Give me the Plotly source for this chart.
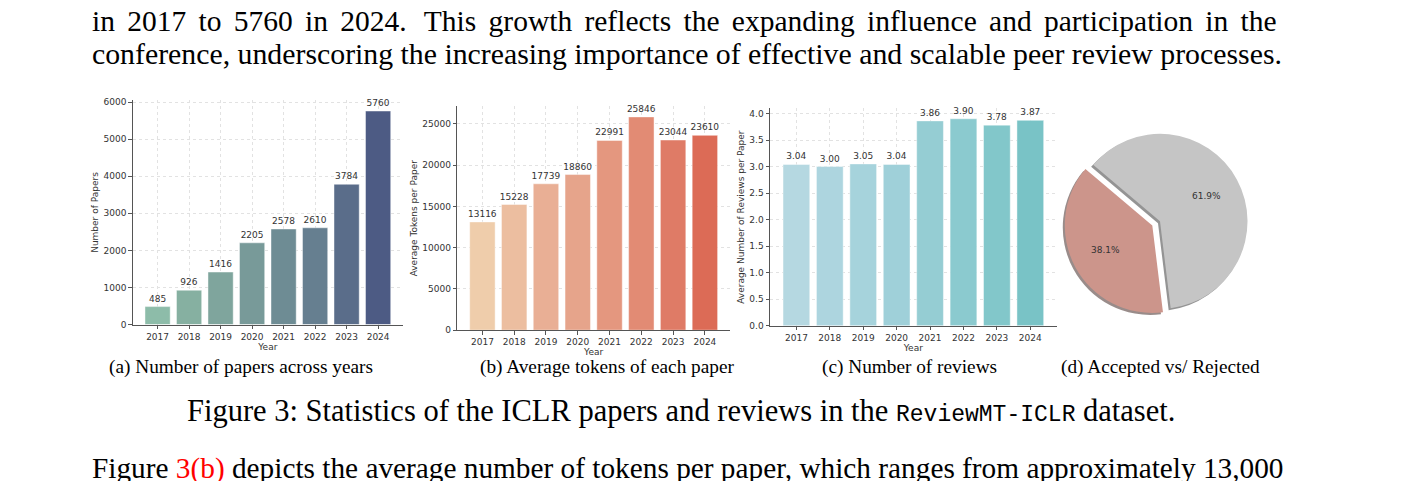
import math
import plotly.graph_objects as go

W, H = 1417, 481

years = ["2017", "2018", "2019", "2020", "2021", "2022", "2023", "2024"]
papers = [485, 926, 1416, 2205, 2578, 2610, 3784, 5760]
tokens = [13116, 15228, 17739, 18860, 22991, 25846, 23044, 23610]
reviews = [3.04, 3.00, 3.05, 3.04, 3.86, 3.90, 3.78, 3.87]
pie_labels = ["Accepted", "Rejected"]
pie_values = [38.1, 61.9]

papers_colors = ["#8dbca9", "#86b0a1", "#7fa59d", "#789a99", "#6e8c94", "#667f90", "#5a6d8a", "#4d5b84"]
tokens_colors = ["#efcdab", "#ecbea0", "#e9af95", "#e6a48b", "#e4977f", "#e28b74", "#df7b66", "#dc6b56"]
reviews_colors = ["#b5d8e1", "#add5df", "#a6d3dc", "#9fd0d9", "#95cdd3", "#8bcacf", "#82c7ca", "#79c3c6"]
pie_colors = ["#cc958b", "#c5c5c5"]
shadow_colors = ["rgba(70,45,42,0.55)", "rgba(60,60,60,0.55)"]

CHART_FONT = "DejaVu Sans"
SERIF = "Liberation Serif"


def px_x(x):
    return x / W


def px_y(y):
    return 1 - y / H


fig = go.Figure()

panels = [
    ("x", "y", papers, papers_colors, "%{y:d}"),
    ("x2", "y2", tokens, tokens_colors, "%{y:d}"),
    ("x3", "y3", reviews, reviews_colors, "%{y:.2f}"),
]
for xa, ya, vals, cols, tmpl in panels:
    fig.add_trace(go.Bar(
        x=years, y=vals, xaxis=xa, yaxis=ya, width=0.8,
        marker=dict(color=cols, line=dict(color="rgba(255,255,255,0.55)", width=0.8)),
        texttemplate=tmpl, textposition="outside", cliponaxis=False,
        constraintext="none",
        textfont=dict(family=CHART_FONT, size=9, color="#333333"),
        showlegend=False, hoverinfo="skip",
    ))

# pie geometry (pixels)
pie_cx, pie_cy, pie_r, pull = 1160, 222, 89, 0.1
box = 2 * pie_r * (1 + pull)
dom_x = [px_x(pie_cx - box / 2), px_x(pie_cx + box / 2)]
dom_y = [px_y(pie_cy + box / 2), px_y(pie_cy - box / 2)]
rot = 173
sh = 2.0
fig.add_trace(go.Pie(
    labels=pie_labels, values=pie_values, sort=False, direction="clockwise",
    rotation=rot, pull=[pull, 0], textinfo="none", hoverinfo="skip",
    marker=dict(colors=shadow_colors, line=dict(width=0)),
    domain=dict(x=[dom_x[0] - sh / W, dom_x[1] - sh / W], y=[dom_y[0] - sh / H, dom_y[1] - sh / H]),
    showlegend=False,
))
fig.add_trace(go.Pie(
    labels=pie_labels, values=pie_values, sort=False, direction="clockwise",
    rotation=rot, pull=[pull, 0], textinfo="none", hoverinfo="skip",
    marker=dict(colors=pie_colors, line=dict(width=0)),
    domain=dict(x=dom_x, y=dom_y), showlegend=False,
))

annotations = []
# pie percentage labels computed from values
total = sum(pie_values)
start = rot
for i, v in enumerate(pie_values):
    span = 360 * v / total
    mid = start + span / 2
    start += span
    theta = math.radians(90 - mid)
    d = 0.6 * pie_r + (pull * pie_r if i == 0 else 0)
    lx = pie_cx + d * math.cos(theta)
    ly = pie_cy - d * math.sin(theta)
    annotations.append(dict(
        x=px_x(lx), y=px_y(ly), xref="paper", yref="paper", showarrow=False,
        text=f"{v:.1f}%", font=dict(family=CHART_FONT, size=9, color="#333333"),
        xanchor="center", yanchor="middle"))

axis_common = dict(
    showline=True, linecolor="#555555", linewidth=1, ticks="outside", ticklen=3.5,
    tickcolor="#555555", tickwidth=1, tickfont=dict(family=CHART_FONT, size=9, color="#333333"),
    showgrid=True, gridcolor="#e2e2e2", griddash="dot", gridwidth=0.8, zeroline=False,
)
xrange = [-0.79, 7.79]
title_font = dict(family=CHART_FONT, size=9, color="#333333")

layout = dict(
    width=W, height=H, margin=dict(l=0, r=0, t=0, b=0),
    paper_bgcolor="white", plot_bgcolor="white",
    xaxis=dict(domain=[px_x(132.7), px_x(403)], anchor="y", range=xrange,
               title=dict(text="Year", font=title_font, standoff=2), **axis_common),
    yaxis=dict(domain=[px_y(327), px_y(99)], anchor="x", range=[0, 6048],
               tickvals=[0, 1000, 2000, 3000, 4000, 5000, 6000], tickformat="d",
               title=dict(text="Number of Papers", font=title_font, standoff=3), **axis_common),
    xaxis2=dict(domain=[px_x(457.3), px_x(730)], anchor="y2", range=xrange,
                title=dict(text="Year", font=title_font, standoff=2), **axis_common),
    yaxis2=dict(domain=[px_y(332.7), px_y(105)], anchor="x2", range=[0, 27138],
                tickvals=[0, 5000, 10000, 15000, 20000, 25000], tickformat="d",
                title=dict(text="Average Tokens per Paper", font=title_font, standoff=3), **axis_common),
    xaxis3=dict(domain=[px_x(770), px_x(1056.7)], anchor="y3", range=xrange,
                title=dict(text="Year", font=title_font, standoff=2), **axis_common),
    yaxis3=dict(domain=[px_y(328.3), px_y(107.2)], anchor="x3", range=[0, 4.095],
                tickvals=[0, 0.5, 1, 1.5, 2, 2.5, 3, 3.5, 4], tickformat=".1f",
                title=dict(text="Average Number of Reviews per Paper", font=title_font, standoff=3),
                **axis_common),
)

body = dict(family=SERIF, size=29.5, color="black")
body2 = dict(family=SERIF, size=29.8, color="black")
caption = dict(family=SERIF, size=30.5, color="black")
last = dict(family=SERIF, size=29.3, color="black")
sub = dict(family=SERIF, size=19.3, color="black")
line1_words = "in 2017 to 5760 in 2024.  This growth reflects the expanding influence and participation in the"
line1 = line1_words.replace("  ", " \u2006").replace(" ", " \u2006")
texts = [
    (90, 18, "left", line1, body),
    (90, 51, "left", "conference, underscoring the increasing importance of effective and scalable peer review processes.", body2),
    (240.5, 370, "center", "(a) Number of papers across years", sub),
    (607.5, 370, "center", "(b) Average tokens of each paper", sub),
    (909, 370, "center", "(c) Number of reviews", sub),
    (1160, 370, "center", "(d) Accepted vs/ Rejected", sub),
    (681, 415, "center",
     "Figure 3: Statistics of the ICLR papers and reviews in the "
     "<span style=\"font-family:'Liberation Mono';font-size:23px\">ReviewMT-ICLR</span> dataset.", caption),
    (90, 473, "left",
     "Figure <span style=\"color:#ff0000\">3(b)</span> depicts the average number of tokens per paper, "
     "which ranges from approximately 13,000", last),
]
for x, y, anc, t, f in texts:
    annotations.append(dict(x=px_x(x), y=px_y(y), xref="paper", yref="paper", showarrow=False,
                            text=t, font=f, xanchor=anc, yanchor="middle"))

layout["annotations"] = annotations
fig.update_layout(**layout)
fig.write_html("out.html")
